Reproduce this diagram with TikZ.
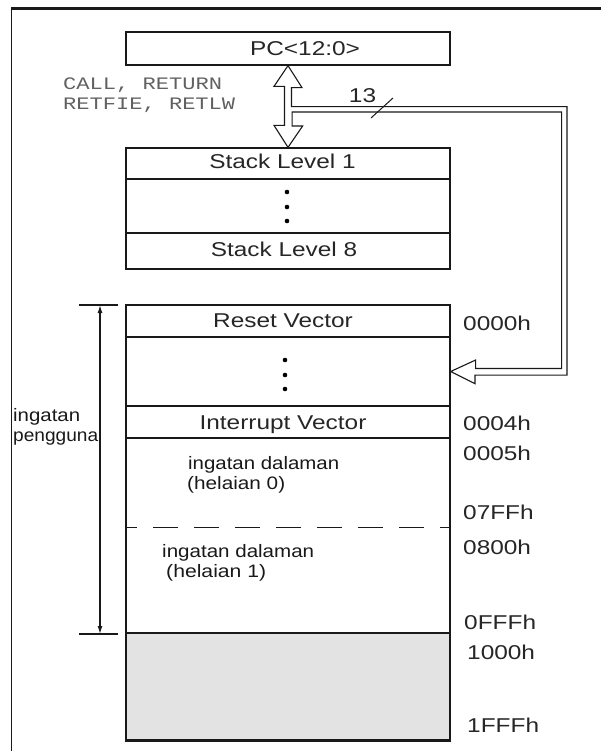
\documentclass[tikz,border=0pt]{standalone}
\usepackage{fontspec}
\setmainfont{Liberation Sans}
\newfontfamily\monofont{Liberation Mono}
\usepackage{graphicx}
\usetikzlibrary{calc,arrows.meta}
\newcommand{\sx}[1]{\scalebox{1.22}[1]{#1}}
\newcommand{\fw}[2]{\resizebox{#1pt}{\height}{#2}}
\definecolor{memgray}{HTML}{E3E3E3}
\begin{document}
\begin{tikzpicture}[x=1pt,y=-1pt,
  box/.style={draw=black!90, line width=1.3pt, rectangle, inner sep=0pt, minimum width=324pt},
  big/.style={font=\fontsize{20}{24}\selectfont, text=black!85, inner sep=0pt, text height=14.3pt, text depth=0pt},
  hexl/.style={big, anchor=west},
  thin/.style={font=\fontsize{18}{20}\selectfont, text=black!90, anchor=base west, inner sep=0pt},
  mono/.style={font=\monofont\fontsize{17.5}{20}\selectfont, text=black!62, anchor=base west, inner sep=0pt},
  hollow/.style={draw=black!90, line width=1.1pt, fill=white, line join=miter},
  dotm/.style={fill=black, circle, inner sep=0pt, minimum size=4.6pt},
  dim/.style={line width=1.3pt, black!90, {Latex[length=8pt,width=5pt]}-{Latex[length=8pt,width=5pt]}},
  tick/.style={line width=1.2pt, black!90},
]
\useasboundingbox (0,0) rectangle (600,751);
% outer frame
\draw[line width=2.5pt, black!90] (11,8.5) -- (601,8.5);
\draw[line width=1.6pt, black!90] (11.5,7.3) -- (11.5,752);

% PC register
\node[box, minimum height=33pt] (pc) at (288,48.5) {};
\node[big] (pct) at ($(pc.center)+(17,0)$) {\sx{PC<12:0>}};

% stack
\node[box, minimum height=31pt] (s1) at (288,163.5) {};
\node[box, minimum height=54pt] (sd) at (288,206) {};
\node[box, minimum height=36pt] (s8) at (288,251) {};
\node[big] (s1t) at (282.5,161.5) {\sx{Stack Level 1}};
\node[big] (s8t) at (284,249) {\sx{Stack Level 8}};
\node[dotm] (sd1) at (287,192) {};
\node[dotm] (sd2) at (287,207) {};
\node[dotm] (sd3) at (287,221) {};

% program memory
\node[box, minimum height=32pt] (rv) at (288,321) {};
\node[box, minimum height=69pt] (md) at (288,371.5) {};
\node[box, minimum height=32pt] (iv) at (288,422) {};
\node[box, minimum height=195pt] (bk) at (288,535.5) {};
\node[box, minimum height=107pt, fill=memgray] (gr) at (288,686.5) {};
\draw[line width=2.8pt, black!90] (gr.south west) -- (gr.south east);
\draw[line width=1.3pt, black!90, dash pattern=on 25pt off 16pt, dash phase=13pt]
  ($(bk.north west)+(0,90)$) -- ($(bk.north east)+(0,90)$);
\node[big] (rvt) at (283,320) {\sx{Reset Vector}};
\node[big] (ivt) at (283,422) {\sx{Interrupt Vector}};
\node[dotm] (md1) at (285,360) {};
\node[dotm] (md2) at (285,375) {};
\node[dotm] (md3) at (285,389) {};

% bank texts
\node[thin] (b0a) at (188,469) {\fw{151}{ingatan dalaman}};
\node[thin] (b0b) at (187,489) {\fw{98}{(helaian 0)}};
\node[thin] (b1a) at (162,557) {\fw{152}{ingatan dalaman}};
\node[thin] (b1b) at (166,577) {\fw{100}{(helaian 1)}};

% addresses
\node[hexl] (a0) at (463,323.5) {\sx{0000h}};
\node[hexl] (a4) at (463,423.5) {\sx{0004h}};
\node[hexl] (a5) at (463,453.5) {\sx{0005h}};
\node[hexl] (a7) at (463,512.5) {\sx{07FFh}};
\node[hexl] (a8) at (463,547.5) {\sx{0800h}};
\node[hexl] (af) at (464,622) {\sx{0FFFh}};
\node[hexl] (a10) at (467,652) {\sx{1000h}};
\node[hexl] (a1f) at (467,725) {\sx{1FFFh}};

% user memory dimension
\coordinate (dt) at (100,305);
\coordinate (db) at (100,634);
\draw[tick] (79,305) -- (118,305);
\draw[tick] (79,634) -- (118,634);
\draw[dim] (dt) -- (db);
\node[thin] (ua) at (13,421) {\fw{67}{ingatan}};
\node[thin] (ub) at (13,441) {\fw{85}{pengguna}};

% instruction labels
\node[mono] (m1) at (63,90) {\fw{159}{CALL, RETURN}};
\node[mono] (m2) at (63,110) {\fw{172}{RETFIE, RETLW}};

% hollow bus arrows
\coordinate (t1) at (pc.south);
\coordinate (t2) at (s1.north);
\coordinate (t3) at (md.east);
\draw[hollow] (t1) -- ++(14,22) -- ++(-10.5,0) -- ++(0,19) -- ++(275.5,0)
  -- ++(0,268.5) -- ++(-92,0) -- ++(0,8.5) -- (t3) -- ++(25,-11.5) -- ++(0,8.5)
  -- ++(86,0) -- ++(0,-256.5) -- ++(-269.5,0) -- ++(0,14) -- ++(10.5,0)
  -- (t2) -- ++(-14,-22) -- ++(10.5,0) -- ++(0,-39) -- ++(-10.5,0) -- cycle;

% bus width
\node[big] (bw) at (362.5,95) {\sx{13}};
\draw[line width=1pt, black!90] (371,118) -- (393,98);
\end{tikzpicture}
\end{document}
